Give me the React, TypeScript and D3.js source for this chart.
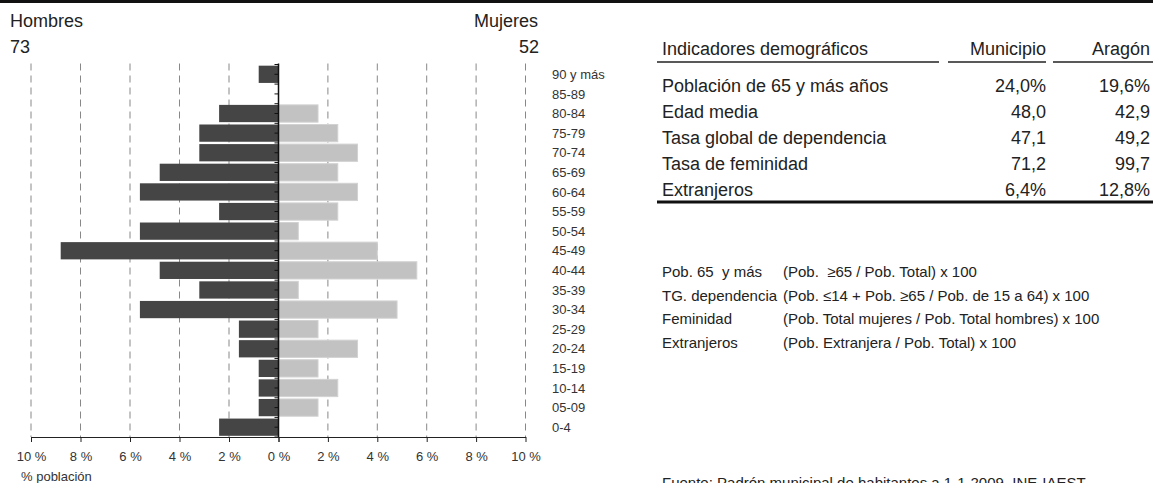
import React, { useEffect, useRef } from "react"
import * as d3 from "d3"

// pirámide: % sobre la población total (125 hab.)
const ages = ["90 y más", "85-89", "80-84", "75-79", "70-74", "65-69", "60-64", "55-59", "50-54", "45-49",
  "40-44", "35-39", "30-34", "25-29", "20-24", "15-19", "10-14", "05-09", "0-4"]
const hombres = [0.8, 0, 2.4, 3.2, 3.2, 4.8, 5.6, 2.4, 5.6, 8.8, 4.8, 3.2, 5.6, 1.6, 1.6, 0.8, 0.8, 0.8, 2.4]
const mujeres = [0, 0, 1.6, 2.4, 3.2, 2.4, 3.2, 2.4, 0.8, 4.0, 5.6, 0.8, 4.8, 1.6, 3.2, 1.6, 2.4, 1.6, 0]
const totalHombres = 73
const totalMujeres = 52
const xTicks = [0, 2, 4, 6, 8, 10]

// tabla de indicadores
const indicadores = ["Población de 65 y más años", "Edad media", "Tasa global de dependencia", "Tasa de feminidad", "Extranjeros"]
const municipio = ["24,0%", "48,0", "47,1", "71,2", "6,4%"]
const aragon = ["19,6%", "42,9", "49,2", "99,7", "12,8%"]

// notas
const notasTermino = ["Pob. 65  y más", "TG. dependencia", "Feminidad", "Extranjeros"]
const notasFormula = [
  "(Pob.  ≥65 / Pob. Total) x 100",
  "(Pob. ≤14 + Pob. ≥65 / Pob. de 15 a 64) x 100",
  "(Pob. Total mujeres / Pob. Total hombres) x 100",
  "(Pob. Extranjera / Pob. Total) x 100",
]
const fuente = "Fuente: Padrón municipal de habitantes a 1-1-2009. INE-IAEST."

const W = 1153
const H = 483
const FONT = "'Liberation Sans', Arial, sans-serif"
const INK = "#222"

export default function App() {
  const ref = useRef<SVGSVGElement>(null)

  useEffect(() => {
    const svg = d3.select(ref.current)
    svg.selectAll("*").remove()
    svg.attr("font-family", FONT).attr("fill", INK)

    // línea superior
    svg.append("rect").attr("x", 0).attr("y", 0).attr("width", W).attr("height", 3).attr("fill", "#111")

    const x0 = 278.5
    const top = 64.5
    const bottom = 437
    const xL = d3.scaleLinear().domain([0, 10]).range([x0, 31])
    const xR = d3.scaleLinear().domain([0, 10]).range([x0, 525.5])
    const y = d3.scaleBand<string>().domain(ages).range([top, bottom]).paddingInner(0.12).paddingOuter(0.06)

    // rejilla discontinua
    const grid = svg.append("g")
    const gridTicks = xTicks.filter((d) => d > 0)
    ;[xL, xR].forEach((sc) => {
      grid.selectAll(null)
        .data(gridTicks)
        .enter()
        .append("line")
        .attr("x1", (d) => sc(d)).attr("x2", (d) => sc(d))
        .attr("y1", top - 1).attr("y2", bottom)
        .attr("stroke", "#888")
        .attr("stroke-width", 1)
        .attr("stroke-dasharray", "7,5")
    })

    // barras
    svg.append("g")
      .selectAll("rect")
      .data(ages)
      .enter()
      .append("rect")
      .attr("x", (d, i) => xL(hombres[i]))
      .attr("width", (d, i) => x0 - xL(hombres[i]))
      .attr("y", (d) => y(d)!)
      .attr("height", y.bandwidth())
      .attr("fill", "#454545")

    svg.append("g")
      .selectAll("rect")
      .data(ages)
      .enter()
      .append("rect")
      .attr("x", x0)
      .attr("width", (d, i) => Math.max(0, xR(mujeres[i]) - x0))
      .attr("y", (d) => y(d)!)
      .attr("height", y.bandwidth())
      .attr("fill", "#c2c2c2")
      .attr("stroke", (d, i) => (mujeres[i] > 0 ? "#d2d2d2" : "none"))
      .attr("stroke-width", 1)

    // eje central con marcas
    const step = y.step()
    const marks: number[] = []
    ages.forEach((a) => {
      marks.push(y(a)! - (step - y.bandwidth()) / 2)
      marks.push(y(a)! + y.bandwidth() / 2)
    })
    marks.push(bottom)
    svg.append("g")
      .selectAll("line")
      .data(marks)
      .enter()
      .append("line")
      .attr("x1", x0 - 4).attr("x2", x0)
      .attr("y1", (d) => d).attr("y2", (d) => d)
      .attr("stroke", "#111")
    svg.append("line")
      .attr("x1", x0).attr("x2", x0)
      .attr("y1", top - 1).attr("y2", bottom)
      .attr("stroke", "#111").attr("stroke-width", 1.5)

    // ejes inferiores
    const axisStyle = (g: any) => g
      .attr("font-family", FONT)
      .attr("font-size", 13)
      .attr("color", INK)
      .call((g: any) => g.selectAll(".tick text").attr("fill", "#333"))
    ;[xL, xR].forEach((sc, k) => {
      svg.append("g")
        .attr("transform", `translate(0,${bottom})`)
        .call(d3.axisBottom(sc)
          .tickValues(k === 0 ? xTicks : xTicks.filter((d) => d > 0).concat([0]))
          .tickFormat((d) => `${d} %`)
          .tickSize(5)
          .tickPadding(10)
          .tickSizeOuter(0))
        .call(axisStyle)
        .call((g: any) => k === 1 && g.selectAll(".tick").filter((d: number) => d === 0).select("text").remove())
    })

    svg.append("text")
      .attr("x", 21).attr("y", 481)
      .attr("font-size", 13).attr("fill", "#333")
      .text("% población")

    // etiquetas de edad
    svg.append("g")
      .selectAll("text")
      .data(ages)
      .enter()
      .append("text")
      .attr("x", 552)
      .attr("y", (d) => y(d)! + y.bandwidth() / 2)
      .attr("dy", "0.36em")
      .attr("font-size", 13)
      .attr("fill", "#333")
      .text((d) => d)

    // títulos
    svg.append("text").attr("x", 10).attr("y", 27).attr("font-size", 18).text("Hombres")
    svg.append("text").attr("x", 10).attr("y", 53).attr("font-size", 18).text(totalHombres)
    svg.append("text").attr("x", 538).attr("y", 27).attr("font-size", 18).attr("text-anchor", "end").text("Mujeres")
    svg.append("text").attr("x", 539).attr("y", 53).attr("font-size", 18).attr("text-anchor", "end").text(totalMujeres)

    // tabla
    const tx = 662
    const colMun = 1046
    const colAra = 1150
    const rowY = d3.scalePoint<string>().domain(indicadores).range([91.5, 196])
    const table = svg.append("g").attr("font-size", 18)
    table.append("text").attr("x", tx).attr("y", 55).text("Indicadores demográficos")
    table.append("text").attr("x", colMun).attr("y", 55).attr("text-anchor", "end").text("Municipio")
    table.append("text").attr("x", colAra).attr("y", 55).attr("text-anchor", "end").text("Aragón")
    ;[[657, 939], [948, 1046], [1053, W]].forEach(([a, b]) => {
      table.append("line")
        .attr("x1", a).attr("x2", b)
        .attr("y1", 62).attr("y2", 62)
        .attr("stroke", "#222").attr("stroke-width", 1.5)
    })
    indicadores.forEach((d, i) => {
      table.append("text").attr("x", tx).attr("y", rowY(d)!).text(d)
      table.append("text").attr("x", colMun).attr("y", rowY(d)!).attr("text-anchor", "end").text(municipio[i])
      table.append("text").attr("x", colAra).attr("y", rowY(d)!).attr("text-anchor", "end").text(aragon[i])
    })
    table.append("rect").attr("x", 657).attr("y", 200.5).attr("width", W - 657).attr("height", 3).attr("fill", "#111")

    // notas
    const noteY = d3.scalePoint<string>().domain(notasTermino).range([277, 348])
    const notes = svg.append("g").attr("font-size", 15).style("white-space", "pre")
    notasTermino.forEach((d, i) => {
      notes.append("text").attr("xml:space", "preserve").attr("x", tx).attr("y", noteY(d)!).text(d)
      notes.append("text").attr("xml:space", "preserve").attr("x", 783).attr("y", noteY(d)!).text(notasFormula[i])
    })

    svg.append("text").attr("x", tx).attr("y", 488).attr("font-size", 15).text(fuente)
  }, [])

  return (
    <svg
      ref={ref}
      width={W}
      height={H}
      style={{ position: "absolute", left: 0, top: 0, background: "#fff" }}
    />
  )
}
